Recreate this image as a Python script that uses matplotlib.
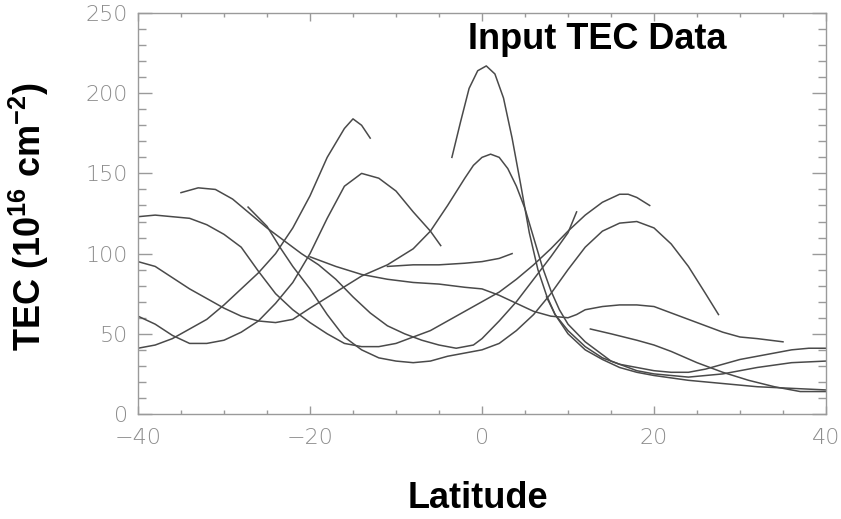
import numpy as np
import matplotlib.pyplot as plt
from matplotlib.ticker import MultipleLocator

plt.rcParams['mathtext.fontset'] = 'custom'
plt.rcParams['mathtext.bf'] = 'Liberation Sans:bold'
plt.rcParams['mathtext.rm'] = 'Liberation Sans:bold'

# TEC profiles (latitude in deg, TEC in 1e16 m^-2)
lat_a = [-3.5, -2.5, -1.5, -0.5, 0.5, 1.5, 2.5, 3.5, 4.5, 5.5, 6.5, 7.5, 8.5, 10, 12, 14, 16, 18, 20, 24, 28, 32, 36, 40]
tec_a = [160, 182, 203, 214, 217, 212, 197, 172, 143, 113, 90, 74, 62, 50, 40, 34, 29, 26, 24, 21, 19, 17, 16, 15]

lat_b = [-40, -38, -36, -34, -32, -30, -28, -26, -24, -22, -20, -17, -14, -11, -8, -6, -4, -2, -1, 0, 1, 2, 3, 4, 5, 6, 7, 8, 9, 10, 12, 15, 18, 20, 24, 28, 32, 36, 40]
tec_b = [95, 92, 85, 78, 72, 66, 61, 58, 57, 59, 66, 76, 86, 93, 103, 114, 130, 147, 155, 160, 162, 160, 153, 142, 128, 110, 92, 77, 65, 56, 45, 33, 27, 25, 23, 25, 29, 32, 33]

lat_c = [-40, -38, -36, -34, -32, -30, -28, -26, -24, -22, -20, -18, -16, -14, -12, -10, -8, -6, -4, -2, 0, 2, 4, 6, 8, 10, 12, 14, 16, 17, 18, 19.5]
tec_c = [123, 124, 123, 122, 118, 112, 104, 89, 75, 65, 57, 50, 44, 42, 42, 44, 48, 52, 58, 64, 70, 76, 84, 93, 103, 114, 124, 132, 137, 137, 135, 130]

lat_d = [-35, -33, -31, -29, -27, -25, -23, -21, -19, -17, -15, -13, -11, -9, -7, -5, -3, -1, 0, 2, 4, 6, 8, 10, 11]
tec_d = [138, 141, 140, 134, 125, 116, 108, 100, 93, 84, 73, 63, 55, 50, 46, 43, 41, 43, 47, 58, 70, 84, 98, 113, 126]

lat_e = [-27.2, -25, -23.5, -22, -20, -18, -16, -14, -12, -10, -8, -6, -4, -2, 0, 2, 4, 6, 8, 10, 12, 14, 16, 18, 20, 22, 24, 26, 27.5]
tec_e = [129, 117, 104, 92, 78, 62, 48, 40, 35, 33, 32, 33, 36, 38, 40, 44, 52, 62, 75, 90, 104, 114, 119, 120, 116, 106, 92, 75, 62]

lat_f = [-40, -38, -36, -34, -32, -30, -28, -26, -24, -22, -20, -18, -16, -15, -14, -13]
tec_f = [41, 43, 47, 53, 59, 68, 78, 88, 100, 116, 136, 160, 178, 184, 180, 172]

lat_g = [-40, -38, -36, -34, -32, -30, -28, -26, -24, -22, -20, -18, -16, -14, -12, -10, -8, -6, -4.8]
tec_g = [61, 56, 49, 44, 44, 46, 51, 58, 69, 82, 100, 122, 142, 150, 147, 139, 126, 114, 105]

lat_h = [-20, -17, -14, -11, -8, -5, -2, 0, 2, 4, 6, 8, 10, 11, 12, 14, 16, 18, 20, 22, 24, 26, 28, 30, 32, 35]
tec_h = [98, 92, 87, 84, 82, 81, 79, 78, 74, 69, 64, 61, 60, 62, 65, 67, 68, 68, 67, 63, 59, 55, 51, 48, 47, 45]

lat_i = [-11, -8, -5, -2, 0, 2, 3.5]
tec_i = [92, 93, 93, 94, 95, 97, 100]

lat_j = [12.6, 15, 18, 20, 22, 25, 28, 31, 34, 37, 40]
tec_j = [53, 50, 46, 43, 39, 32, 26, 21, 17, 14, 14]

lat_k = [7.5, 8.5, 10, 12, 14, 16, 18, 20, 22, 24, 26, 28, 30, 32, 34, 36, 38, 40]
tec_k = [73, 62, 52, 42, 35, 31, 29, 27, 26, 26, 28, 31, 34, 36, 38, 40, 41, 41]

curves = [(lat_a, tec_a), (lat_b, tec_b), (lat_c, tec_c), (lat_d, tec_d), (lat_e, tec_e),
          (lat_f, tec_f), (lat_g, tec_g), (lat_h, tec_h), (lat_i, tec_i), (lat_j, tec_j),
          (lat_k, tec_k)]

fig = plt.figure(figsize=(8.41, 5.19), dpi=100)
ax = fig.add_axes([138 / 841, 1 - 414 / 519, 688 / 841, 401 / 519])

for lat, tec in curves:
    ax.plot(lat, tec, color='#4a4a4a', lw=1.1)

ax.set_xlim(-40, 40)
ax.set_ylim(0, 250)
ax.xaxis.set_major_locator(MultipleLocator(20))
ax.xaxis.set_minor_locator(MultipleLocator(5))
ax.yaxis.set_major_locator(MultipleLocator(50))
ax.yaxis.set_minor_locator(MultipleLocator(10))

grey = '#9a9a9a'
for s in ax.spines.values():
    s.set_color(grey)
    s.set_linewidth(1.0)
ax.tick_params(which='both', direction='in', top=True, right=True, color=grey, width=1.0,
               labelcolor='#8c8c8c', labelsize=16)
ax.tick_params(axis='x', which='major', length=6, pad=10)
ax.tick_params(axis='x', which='minor', length=3)
ax.tick_params(axis='y', which='major', length=10, pad=7)
ax.tick_params(axis='y', which='minor', length=6)
for lbl in ax.get_xticklabels() + ax.get_yticklabels():
    lbl.set_fontweight('light')

ax.text(0.48, 0.933, 'Input TEC Data', transform=ax.transAxes, ha='left', va='center',
        fontsize=26, fontweight='bold', family='Liberation Sans')
fig.text(478 / 841, 1 - 498 / 519, 'Latitude', ha='center', va='center',
         fontsize=26, fontweight='bold', family='Liberation Sans')
fig.text(29 / 841, 1 - 217 / 519, r'TEC (10$^{\mathbf{16}}$ cm$^{\mathbf{-2}}$)', rotation=90,
         ha='center', va='center', fontsize=26, fontweight='bold', family='Liberation Sans')

fig.savefig('out.png', dpi=100)
